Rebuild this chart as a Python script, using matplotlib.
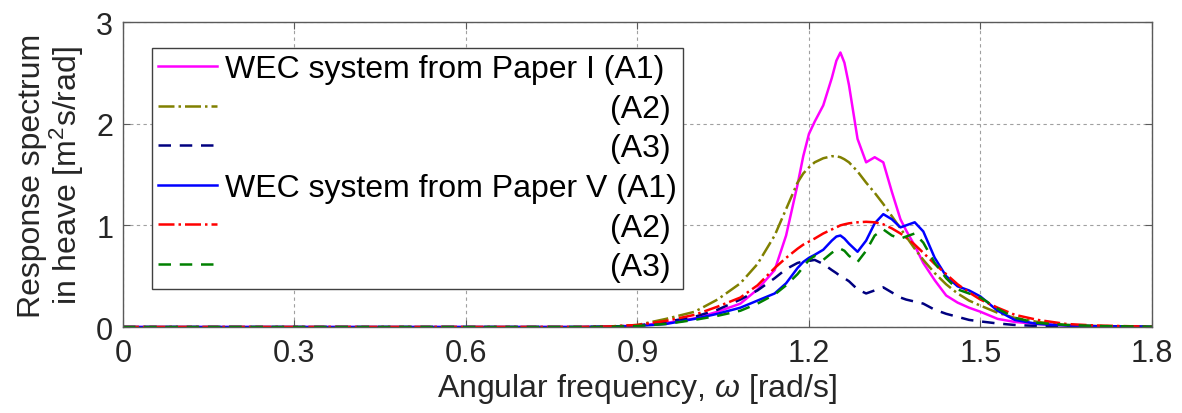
import matplotlib
matplotlib.use("Agg")
import matplotlib.pyplot as plt

# Fonts: Arial-like text, italic omega in the x label
plt.rcParams["font.family"] = ["Liberation Sans", "DejaVu Sans"]
plt.rcParams["mathtext.fontset"] = "custom"
plt.rcParams["mathtext.rm"] = "Liberation Sans"
plt.rcParams["mathtext.it"] = "Liberation Sans:italic"

# Angular frequency grid [rad/s]
omega = [0.00, 0.80, 0.85, 0.90, 0.95, 1.00, 1.04, 1.08, 1.11, 1.14, 1.16, 1.18,
         1.19, 1.20, 1.21, 1.225, 1.24, 1.248, 1.255, 1.262, 1.27, 1.285, 1.30,
         1.315, 1.33, 1.345, 1.36, 1.37, 1.385, 1.40, 1.42, 1.44, 1.46, 1.48,
         1.50, 1.53, 1.56, 1.60, 1.65, 1.70, 1.80]

# Response spectra in heave [m^2 s/rad]
paper1_a1 = [0.0, 0.0, 0.003, 0.015, 0.04, 0.085, 0.15, 0.23, 0.37, 0.56, 0.90, 1.40,
             1.68, 1.90, 2.02, 2.18, 2.45, 2.62, 2.70, 2.60, 2.38, 1.85, 1.62,
             1.67, 1.62, 1.33, 1.06, 0.95, 0.80, 0.63, 0.46, 0.31, 0.24, 0.19,
             0.15, 0.08, 0.05, 0.03, 0.015, 0.008, 0.002]
paper1_a2 = [0.0, 0.0, 0.005, 0.02, 0.08, 0.15, 0.27, 0.43, 0.62, 0.90, 1.16, 1.42,
             1.51, 1.57, 1.62, 1.66, 1.68, 1.68, 1.67, 1.65, 1.62, 1.53, 1.42,
             1.32, 1.21, 1.09, 0.97, 0.89, 0.77, 0.66, 0.53, 0.42, 0.33, 0.26,
             0.21, 0.14, 0.09, 0.05, 0.02, 0.01, 0.002]
paper1_a3 = [0.0, 0.0, 0.003, 0.015, 0.05, 0.10, 0.17, 0.27, 0.36, 0.48, 0.57, 0.63,
             0.645, 0.65, 0.66, 0.62, 0.56, 0.53, 0.50, 0.48, 0.45, 0.37, 0.33,
             0.36, 0.39, 0.34, 0.29, 0.27, 0.25, 0.23, 0.17, 0.13, 0.10, 0.07,
             0.055, 0.035, 0.02, 0.01, 0.005, 0.003, 0.001]
paper5_a1 = [0.0, 0.0, 0.002, 0.01, 0.03, 0.08, 0.13, 0.19, 0.26, 0.33, 0.43, 0.58,
             0.64, 0.68, 0.71, 0.76, 0.85, 0.89, 0.90, 0.87, 0.82, 0.74, 0.85,
             1.02, 1.11, 1.06, 0.98, 1.00, 1.03, 0.94, 0.68, 0.50, 0.40, 0.36,
             0.30, 0.16, 0.07, 0.03, 0.015, 0.008, 0.002]
paper5_a2 = [0.0, 0.0, 0.005, 0.02, 0.06, 0.12, 0.20, 0.29, 0.41, 0.58, 0.68, 0.77,
             0.81, 0.84, 0.87, 0.92, 0.96, 0.98, 1.00, 1.01, 1.02, 1.03, 1.035,
             1.03, 1.01, 0.97, 0.92, 0.88, 0.81, 0.73, 0.62, 0.52, 0.42, 0.34,
             0.27, 0.19, 0.12, 0.07, 0.03, 0.015, 0.003]
paper5_a3 = [0.0, 0.0, 0.002, 0.01, 0.03, 0.07, 0.11, 0.16, 0.23, 0.32, 0.41, 0.52,
             0.59, 0.66, 0.70, 0.66, 0.73, 0.76, 0.77, 0.75, 0.70, 0.64, 0.75,
             0.90, 0.96, 0.90, 0.87, 0.89, 0.92, 0.83, 0.63, 0.48, 0.37, 0.33,
             0.29, 0.18, 0.09, 0.04, 0.02, 0.01, 0.003]

labels = ["WEC system from Paper I (A1)", "(A2)", "(A3)",
          "WEC system from Paper V (A1)", "(A2)", "(A3)"]
xticks = [0, 0.3, 0.6, 0.9, 1.2, 1.5, 1.8]
xtick_labels = ["0", "0.3", "0.6", "0.9", "1.2", "1.5", "1.8"]
yticks = [0, 1, 2, 3]

series = [paper1_a1, paper1_a2, paper1_a3, paper5_a1, paper5_a2, paper5_a3]
colors = ["#ff00ff", "#808000", "#000080", "#0000ff", "#ff0000", "#008000"]
styles = ["-", "-.", (0, (5, 3.5)), "-", "-.", (0, (5, 3.5))]

fig = plt.figure(figsize=(11.82, 4.14), dpi=100)
ax = fig.add_axes([0.104, 0.2077, 0.8706, 0.7367])

for vals, col, ls, lab in zip(series, colors, styles, labels):
    ax.plot(omega, vals, color=col, linestyle=ls, linewidth=1.8, label=lab)

ax.set_xlim(0, 1.8)
ax.set_ylim(0, 3)
ax.set_xticks(xticks)
ax.set_xticklabels(xtick_labels)
ax.set_yticks(yticks)
ax.grid(True, color="#a0a0a0", linestyle=(0, (3, 3)), linewidth=0.8)
ax.set_axisbelow(True)

for sp in ax.spines.values():
    sp.set_color("#5a5a5a")
    sp.set_linewidth(1.0)
ax.tick_params(direction="in", length=5, width=0.8, color="#5a5a5a",
               top=True, right=True, labelsize=22, labelcolor="#262626")
ax.tick_params(axis="x", pad=8)
ax.tick_params(axis="y", pad=7)

ax.set_xlabel(r"Angular frequency, $\omega$ [rad/s]", fontsize=23,
              color="#262626", labelpad=2)
ax.set_ylabel("Response spectrum\nin heave [m$^2$s/rad]", fontsize=23,
              color="#262626", labelpad=7, linespacing=1.05)

leg = ax.legend(loc="upper left", bbox_to_anchor=(0.028, 0.915), fontsize=23,
                borderaxespad=0, handlelength=1.85, handletextpad=0.25,
                borderpad=0.2, labelspacing=0.3, fancybox=False,
                framealpha=1, edgecolor="#404040")
leg.get_frame().set_linewidth(1.0)

# the short "(A2)"/"(A3)" labels sit flush right, as in the original
fig.canvas.draw()
renderer = fig.canvas.get_renderer()
texts = leg.get_texts()
widths = [t.get_window_extent(renderer).width for t in texts]
wmax = max(widths)
for t, w in zip(texts, widths):
    if not t.get_text().startswith("WEC"):
        t.set_position((wmax - w - 6, 0))

fig.savefig("out.png", dpi=100)
